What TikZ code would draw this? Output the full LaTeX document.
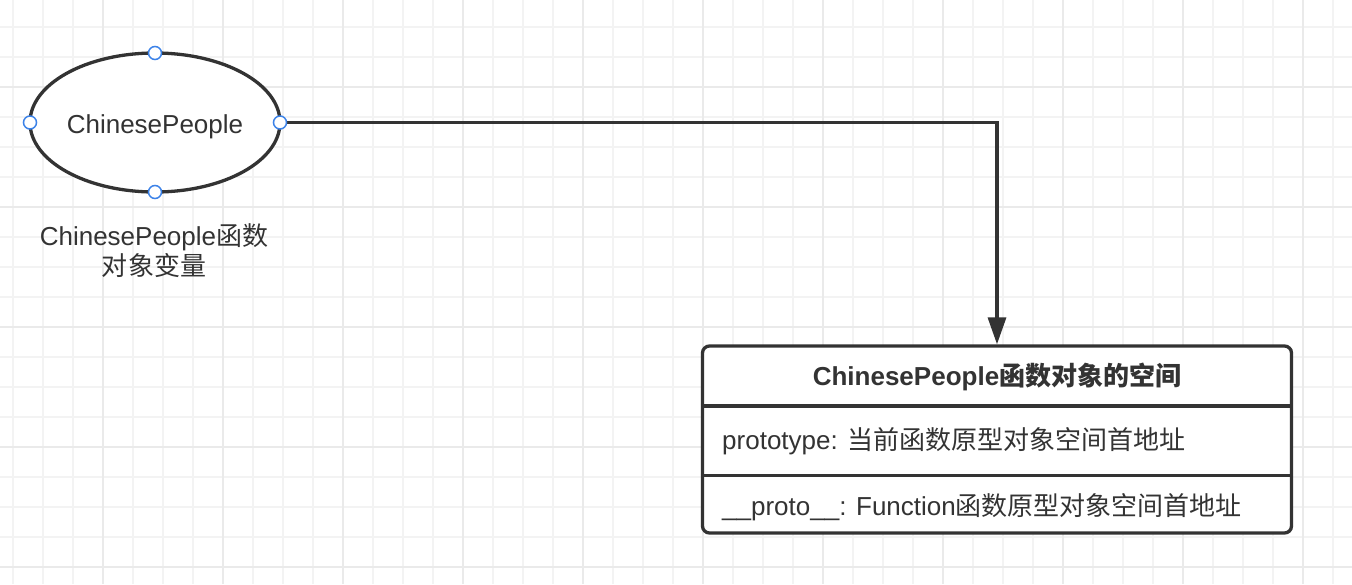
\documentclass[tikz,border=0pt]{standalone}
\usepackage{fontspec}
\setmainfont{Liberation Sans}
\newfontfamily\cjk{Noto Sans CJK SC}
\newcommand{\zh}[1]{{\cjk #1}}
\usetikzlibrary{shapes.geometric,arrows.meta}
\definecolor{ink}{HTML}{333333}
\definecolor{gridminor}{HTML}{F3F3F3}
\definecolor{gridmajor}{HTML}{EAEAEA}
\definecolor{handle}{HTML}{3B82E8}

\begin{document}
\begin{tikzpicture}[x=1pt,y=-1pt,
  font=\fontsize{26}{30}\selectfont,
  every node/.append style={text=ink},
  grid line/.style={line width=2pt},
  fn object/.style={
    ellipse, draw=ink, fill=white, line width=3.3pt,
    minimum width=250pt, minimum height=139pt, outer sep=0pt, inner sep=0pt,
    text height=22pt, text depth=0pt,
  },
  anchor dot/.style={
    circle, draw=handle, fill=white, line width=1.5pt,
    minimum size=13pt, inner sep=0pt,
  },
  space box/.style={
    draw=ink, fill=white, line width=3.3pt, rounded corners=7pt,
    minimum width=589pt, minimum height=187pt,
  },
  link/.style={draw=ink, line width=3.3pt, -{Triangle[width=18pt,length=27pt]}},
  slot/.style={anchor=west, inner sep=0pt},
  ]
  \useasboundingbox (0,0) rectangle (1352,584);
  \fill[white] (0,0) rectangle (1352,584);
  % background grid
  \foreach \gx in {0,...,44}
    \draw[grid line, gridminor] (12.7+30*\gx,0) -- ++(0,584);
  \foreach \gy in {0,...,18}
    \draw[grid line, gridminor] (0,26.7+30*\gy) -- ++(1352,0);
  \foreach \gx in {0,...,10}
    \draw[grid line, gridmajor] (102.7+120*\gx,0) -- ++(0,584);
  \foreach \gy in {0,...,4}
    \draw[grid line, gridmajor] (0,86.7+120*\gy) -- ++(1352,0);

  \node[fn object] (cp) at (155,122.5) {ChinesePeople};
  \node[align=center] (cp label) at (154,251) {ChinesePeople\zh{函数}\\\zh{对象变量}};

  \node[space box] (space) at (997,439.5) {};
  \draw[ink, line width=3.3pt] (space.west |- 0,406) -- (space.east |- 0,406);
  \draw[ink, line width=3.3pt] (space.west |- 0,475.7) -- (space.east |- 0,475.7);
  \node[font=\fontsize{26}{30}\selectfont\bfseries] (space title) at (997,377)
    {ChinesePeople\zh{函数对象的空间}};
  \node[slot] (proto slot) at (722,441) {prototype: \zh{当前函数原型对象空间首地址}};
  \node[slot] (dunder slot) at (722,507) {\_\_proto\_\_: Function\zh{函数原型对象空间首地址}};

  \draw[link] (cp.east) -| (space.north);
  \foreach \side in {north,south,east,west}
    \node[anchor dot] (dot \side) at (cp.\side) {};
\end{tikzpicture}
\end{document}
